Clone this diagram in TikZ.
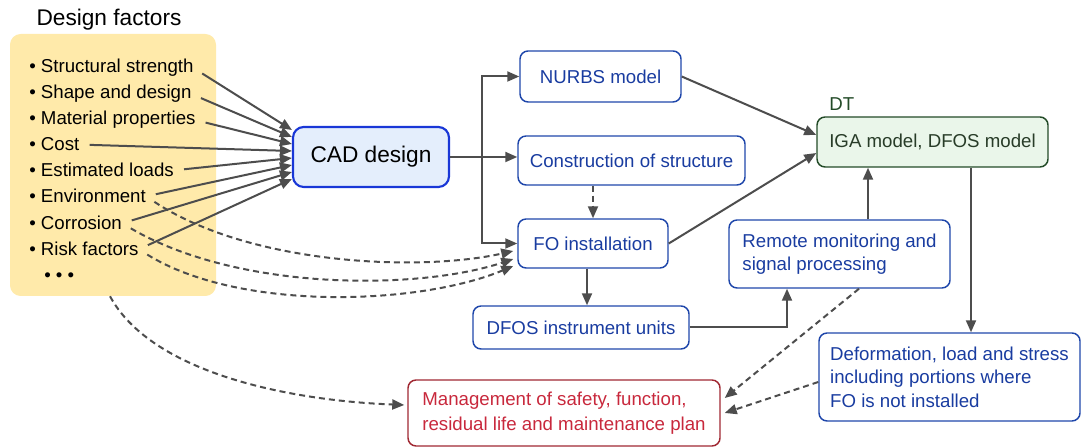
\documentclass[tikz,border=0pt]{standalone}
\usepackage{fontspec}
\setmainfont{Liberation Sans}
\usetikzlibrary{arrows.meta,calc}
\definecolor{arrgray}{RGB}{77,77,77}
\definecolor{yelfill}{RGB}{255,234,170}
\definecolor{cadblue}{RGB}{25,55,215}
\definecolor{cadfill}{RGB}{228,238,252}
\definecolor{boxblue}{RGB}{30,70,170}
\definecolor{txtblue}{RGB}{25,60,160}
\definecolor{dtgreen}{RGB}{35,75,40}
\definecolor{dtfill}{RGB}{234,246,234}
\definecolor{dttext}{RGB}{40,60,40}
\definecolor{mgred}{RGB}{160,40,50}
\definecolor{mgtext}{RGB}{200,40,60}
\begin{document}
\begin{tikzpicture}[x=0.75pt,y=-0.75pt,
  arr/.style={draw=arrgray, line width=1.5pt, -{Triangle[length=9pt,width=7.5pt]}},
  darr/.style={arr, dash pattern=on 4.5pt off 3pt},
  bbox/.style={draw=boxblue, line width=1.1pt, rounded corners=6pt, text=txtblue,
    font=\fontsize{14}{17.5}\selectfont, align=left, inner sep=0pt},
  item/.style={anchor=base west, inner sep=0pt, font=\fontsize{14}{17}\selectfont}]
\useasboundingbox (0,0) rectangle (1081,448);

% design factors
\node[fill=yelfill, rounded corners=8pt, minimum width=154.5pt, minimum height=196.5pt, inner sep=0pt] (yel) at (113,165) {};
\node[font=\fontsize{17}{20}\selectfont] (title) at (109,20) {Design factors};
\node[item] (i1) at (29,73) {• Structural strength};
\node[item] (i2) at (29,99) {• Shape and design};
\node[item] (i3) at (29,125) {• Material properties};
\node[item] (i4) at (29,151) {• Cost};
\node[item] (i5) at (29,177) {• Estimated loads};
\node[item] (i6) at (29,203) {• Environment};
\node[item] (i7) at (29,230) {• Corrosion};
\node[item] (i8) at (29,256) {• Risk factors};
\node[item] (dots) at (44,282) {• • •};

% boxes
\node[draw=cadblue, fill=cadfill, line width=1.6pt, rounded corners=8pt, minimum width=117pt, minimum height=45pt, inner sep=0pt, font=\fontsize{17}{20}\selectfont] (cad) at (371,157) {CAD design};
\node[bbox, minimum width=120.75pt, minimum height=38.25pt] (nurbs) at (600.5,76.5) {NURBS model};
\node[bbox, minimum width=170.25pt, minimum height=36.75pt] (con) at (631.5,160.5) {Construction of structure};
\node[bbox, minimum width=112.5pt, minimum height=36.75pt] (fo) at (593,243.5) {FO installation};
\node[bbox, minimum width=162pt, minimum height=32.25pt] (dfos) at (581,327.5) {DFOS instrument units};
\node[bbox, minimum width=165.75pt, minimum height=51pt] (remote) at (839.5,254) {Remote monitoring and\\signal processing};
\node[bbox, draw=dtgreen, fill=dtfill, text=dttext, minimum width=173.25pt, minimum height=37.5pt] (iga) at (932.5,142) {IGA model, DFOS model};
\node[anchor=west, inner sep=0pt, text=dtgreen, font=\fontsize{14}{17}\selectfont] (dt) at (829,104) {DT};
\node[bbox, minimum width=195.75pt, minimum height=66pt] (def) at (949.5,377) {Deformation, load and stress\\including portions where\\FO is not installed};
\node[bbox, draw=mgred, text=mgtext, font=\fontsize{14}{18.5}\selectfont, minimum width=234pt, minimum height=49.5pt] (mg) at (564,413) {Management of safety, function,\\residual life and maintenance plan};

% factor arrows to CAD
\foreach \i/\o in {1/-27,2/-20,3/-13,4/-6,5/1,6/8,7/15,8/22}
  \draw[arr, shorten <=7.5pt] (i\i.east) -- ($(cad.west)+(0,\o)$);

% dashed curves to FO installation
\draw[darr, shorten <=7.5pt] (i6.east) .. controls (250,265) and (420,272) .. ($(fo.west)+(-4,7.5)$);
\draw[darr, shorten <=7.5pt] (i7.east) .. controls (240,292) and (420,290) .. ($(fo.west)+(-4,15.5)$);
\draw[darr, shorten <=7.5pt] (i8.east) .. controls (240,312) and (420,305) .. ($(fo.west)+(-4,22.5)$);

% branch from CAD
\coordinate (br) at (482,157);
\draw[arrgray, line width=1.5pt] (cad.east) -- (br);
\draw[arr] (br) -- (br -| con.west);
\draw[arr] (br) |- (nurbs.west);
\draw[arr] (br) |- (fo.west);

% construction to FO
\draw[darr] (fo.north |- con.south) -- (fo.north);
% FO to DFOS
\coordinate (fd) at ($(fo.south)+(-6,0)$);
\draw[arr] (fd) -- (fd |- dfos.north);
% DFOS to remote
\coordinate (rb) at ($(remote.south)+(-52.5,0)$);
\draw[arr] (dfos.east) -| (rb);
% to IGA
\draw[arr] (nurbs.east) -- ($(iga.west)+(0,-7)$);
\draw[arr] (fo.east) -- ($(iga.west)+(0,11)$);
\coordinate (ri) at ($(remote.north)+(28.5,0)$);
\draw[arr] (ri) -- (ri |- iga.south);
\coordinate (id) at ($(iga.south)+(38.5,0)$);
\draw[arr] (id) -- (id |- def.north);

% dashed to management
\draw[darr] ($(remote.south)+(19.5,0)$) -- ($(mg.east)+(4,-15)$);
\draw[darr] ($(def.west)+(0,5)$) -- ($(mg.east)+(4,0)$);
\draw[darr] ($(yel.south)+(-3,0)$) .. controls (150,370) and (280,400) .. ($(mg.west)+(-3,-8)$);
\end{tikzpicture}
\end{document}
